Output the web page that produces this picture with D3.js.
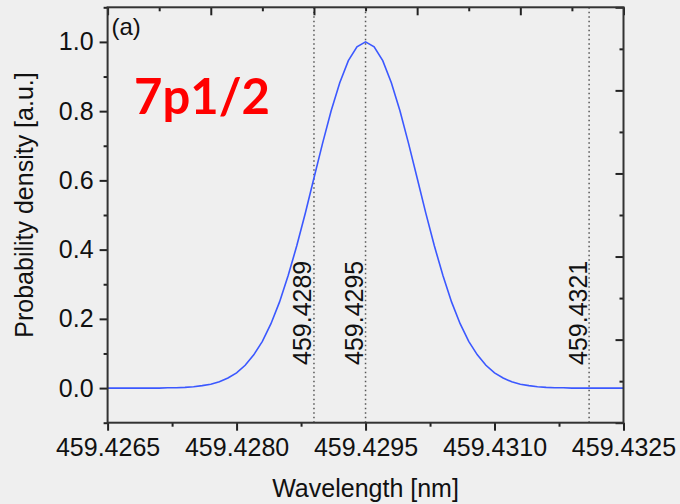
<!DOCTYPE html>
<html>
<head>
<meta charset="utf-8">
<script src="https://cdn.jsdelivr.net/npm/d3@7"></script>
<style>
  html, body { margin: 0; padding: 0; background: #efefef; }
  svg { display: block; }
  text { font-family: "Liberation Sans", Arial, sans-serif; fill: #111; }
</style>
</head>
<body>
<svg id="chart" width="680" height="504"></svg>
<script>
// ---- data ----
const wavelength = [
  459.4265, 459.4266, 459.4267, 459.4268, 459.4269, 459.4270, 459.4271, 459.4272, 459.4273, 459.4274,
  459.4275, 459.4276, 459.4277, 459.4278, 459.4279, 459.4280, 459.4281, 459.4282, 459.4283, 459.4284,
  459.4285, 459.4286, 459.4287, 459.4288, 459.4289, 459.4290, 459.4291, 459.4292, 459.4293, 459.4294,
  459.4295, 459.4296, 459.4297, 459.4298, 459.4299, 459.4300, 459.4301, 459.4302, 459.4303, 459.4304,
  459.4305, 459.4306, 459.4307, 459.4308, 459.4309, 459.4310, 459.4311, 459.4312, 459.4313, 459.4314,
  459.4315, 459.4316, 459.4317, 459.4318, 459.4319, 459.4320, 459.4321, 459.4322, 459.4323, 459.4324,
  459.4325
];
const density = [
  0, 0, 0, 0, 0, 0, 0, 0.001, 0.001, 0.002,
  0.004, 0.007, 0.011, 0.018, 0.029, 0.044, 0.066, 0.096, 0.135, 0.186,
  0.249, 0.325, 0.411, 0.506, 0.607, 0.707, 0.801, 0.882, 0.946, 0.986,
  1.000, 0.986, 0.946, 0.882, 0.801, 0.707, 0.607, 0.506, 0.411, 0.325,
  0.249, 0.186, 0.135, 0.096, 0.066, 0.044, 0.029, 0.018, 0.011, 0.007,
  0.004, 0.002, 0.001, 0.001, 0, 0, 0, 0, 0, 0,
  0
];
const xTicks = [459.4265, 459.4280, 459.4295, 459.4310, 459.4325];
const xMinorTicks = [459.42725, 459.42875, 459.43025, 459.43175];
const yTicks = [0.0, 0.2, 0.4, 0.6, 0.8, 1.0];
const yMinorTicks = [-0.1, 0.1, 0.3, 0.5, 0.7, 0.9, 1.1];
const markerLines = [459.4289, 459.4295, 459.4321];
const secondaryTicks = [0, 1, 2, 3, 4, 5];
const secondaryMinorTicks = [0.5, 1.5, 2.5, 3.5, 4.5];
const panelLabel = "(a)";
const stateLabel = "7p1/2";
const xTitle = "Wavelength [nm]";
const yTitle = "Probability density [a.u.]";

// ---- layout ----
const L = 107.6, R = 623.5, T = 7.3, B = 422.7;
const svg = d3.select("#chart");

const x = d3.scaleLinear().domain([459.4265, 459.4325]).range([L, R]);
const y = d3.scaleLinear().domain([-0.1, 1.1]).range([B, T]);
const xTop = d3.scaleLinear().domain([0, 5]).range([L, R]);
const yRight = d3.scaleLinear().domain([0, 5]).range([B, T]);

const FS = 25;

// dotted marker lines
svg.append("g").selectAll("line").data(markerLines).join("line")
  .attr("x1", d => x(d)).attr("x2", d => x(d))
  .attr("y1", T).attr("y2", B)
  .attr("stroke", "#555").attr("stroke-width", 1.5)
  .attr("stroke-dasharray", "1.5,3");

// marker labels
svg.append("g").selectAll("text").data(markerLines).join("text")
  .attr("transform", d => `translate(${x(d) - 2.5},365) rotate(-90)`)
  .attr("text-anchor", "start")
  .style("font-size", FS + "px")
  .text(d => d3.format(".4f")(d));

// curve
const line = d3.line().x((d, i) => x(wavelength[i])).y(d => y(d));
svg.append("path").datum(density)
  .attr("d", line)
  .attr("fill", "none")
  .attr("stroke", "#3b58ff")
  .attr("stroke-width", 1.6);

// axes
function styleAxis(g) {
  g.select(".domain").remove();
  g.selectAll(".tick line").attr("stroke", "#222").attr("stroke-width", 2);
  g.selectAll(".tick text").style("font-size", FS + "px").attr("fill", "#111");
}
// bottom
svg.append("g").attr("transform", `translate(0,${B})`)
  .call(d3.axisBottom(x).tickValues(xTicks).tickSize(8).tickPadding(8).tickFormat(d3.format(".4f")))
  .call(styleAxis);
svg.append("g").attr("transform", `translate(0,${B})`)
  .call(d3.axisBottom(x).tickValues(xMinorTicks).tickSize(4).tickFormat(""))
  .call(styleAxis);
// left
svg.append("g").attr("transform", `translate(${L},0)`)
  .call(d3.axisLeft(y).tickValues(yTicks).tickSize(8).tickPadding(6).tickFormat(d3.format(".1f")))
  .call(styleAxis);
svg.append("g").attr("transform", `translate(${L},0)`)
  .call(d3.axisLeft(y).tickValues(yMinorTicks).tickSize(4).tickFormat(""))
  .call(styleAxis);
// top (inward)
svg.append("g").attr("transform", `translate(0,${T})`)
  .call(d3.axisBottom(xTop).tickValues(secondaryTicks).tickSize(8).tickFormat(""))
  .call(styleAxis);
svg.append("g").attr("transform", `translate(0,${T})`)
  .call(d3.axisBottom(xTop).tickValues(secondaryMinorTicks).tickSize(4).tickFormat(""))
  .call(styleAxis);
// right (inward)
svg.append("g").attr("transform", `translate(${R},0)`)
  .call(d3.axisLeft(yRight).tickValues(secondaryTicks).tickSize(8).tickFormat(""))
  .call(styleAxis);
svg.append("g").attr("transform", `translate(${R},0)`)
  .call(d3.axisLeft(yRight).tickValues(secondaryMinorTicks).tickSize(4).tickFormat(""))
  .call(styleAxis);

// frame
svg.append("rect")
  .attr("x", L).attr("y", T).attr("width", R - L).attr("height", B - T)
  .attr("fill", "none").attr("stroke", "#333").attr("stroke-width", 2);

// titles
svg.append("text")
  .attr("x", (L + R) / 2).attr("y", 497)
  .attr("text-anchor", "middle")
  .style("font-size", FS + "px")
  .text(xTitle);
svg.append("text")
  .attr("transform", `translate(33,${205}) rotate(-90)`)
  .attr("text-anchor", "middle")
  .style("font-size", FS + "px")
  .text(yTitle);

// panel label
svg.append("text")
  .attr("x", 111.5).attr("y", 35)
  .style("font-size", "24px")
  .text(panelLabel);

// state label
svg.append("text")
  .attr("x", 134).attr("y", 114.3)
  .style("font-family", "Lato, 'Open Sans', sans-serif")
  .style("font-weight", "700")
  .style("font-size", "49px")
  .style("fill", "#ff0000")
  .text(stateLabel);
</script>
</body>
</html>
